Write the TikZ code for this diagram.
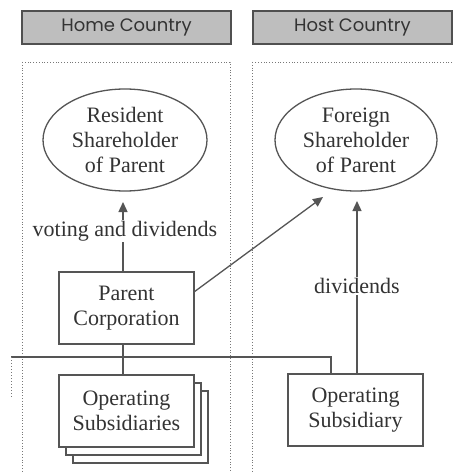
\documentclass[tikz,border=0pt]{standalone}
\usepackage{fontspec}
\setmainfont{Liberation Serif}
\newfontfamily\hdrfont{Poppins}
\usetikzlibrary{shapes.geometric,arrows.meta}
\definecolor{ln}{RGB}{85,85,85}
\definecolor{hdrfill}{RGB}{190,190,190}
\definecolor{hdrline}{RGB}{80,80,80}
\definecolor{dotc}{RGB}{120,120,120}
\tikzset{
  hdr/.style={draw=hdrline, line width=1.8pt, fill=hdrfill, inner sep=0pt, font=\hdrfont\fontsize{18}{20}\selectfont, text=black!80},
  region/.style={draw=dotc, dotted, line width=0.8pt},
  oval/.style={ellipse, draw=ln, line width=1.3pt, inner sep=0pt, align=center, font=\fontsize{22}{25}\selectfont, text=black!80},
  box/.style={rectangle, draw=ln, line width=1.4pt, fill=white, inner sep=0pt, align=center, font=\fontsize{22}{25}\selectfont, text=black!80},
  conn/.style={draw=ln, line width=1.3pt},
  arr/.style={conn, -{Triangle[length=10pt,width=9pt]}},
  lbl/.style={fill=white, inner sep=1pt, font=\fontsize{22}{25}\selectfont, text=black!80}
}
\begin{document}
\begin{tikzpicture}[x=1pt,y=-1pt]
\useasboundingbox (0,0) rectangle (453,473);
\fill[white] (0,0) rectangle (453,473);
% regions
\begin{scope}
\clip (0,0) rectangle (453,473);
\draw[region] (22,62) rectangle (230,490);
\draw[region] (252,62) rectangle (470,490);
\end{scope}
% headers
\node[hdr, minimum width=209pt, minimum height=33pt] (home) at (126.5,27.5) {Home Country};
\node[hdr, minimum width=199pt, minimum height=33pt] (host) at (352.5,27.5) {Host Country};
% ellipses
\node[oval, minimum width=164pt, minimum height=102pt] (res) at (125,140) {Resident\\Shareholder\\of Parent};
\node[oval, minimum width=162pt, minimum height=102pt] (for) at (356,140) {Foreign\\Shareholder\\of Parent};
% boxes
\node[box, minimum width=135pt, minimum height=72pt] (par) at (126.5,308) {Parent\\Corporation};
\node[box, line width=1.8pt, minimum width=135pt, minimum height=72pt] (sub3) at (140.5,427) {};
\node[box, line width=1.8pt, minimum width=135pt, minimum height=72pt] (sub2) at (133.5,419) {};
\node[box, line width=1.8pt, minimum width=135pt, minimum height=72pt] (subs) at (126.5,411) {Operating\\Subsidiaries};
\node[box, minimum width=135pt, minimum height=72pt] (osub) at (355.5,410) {Operating\\Subsidiary};
% labels
\node[lbl] (vlab) at (125,231) {voting and dividends};
\node[lbl] (dlab) at (357,286) {dividends};
% connector coordinates
\coordinate (jL) at (11,357);
\coordinate (jR) at (331,357);
\coordinate (jL2) at (11,397);
\coordinate (vtip) at (123,202);
\coordinate (dtip) at (357,201);
\coordinate (ptop) at (123,272);
\coordinate (pbot) at (123,344);
\coordinate (stop) at (123,375);
\coordinate (prt) at (194,292);
\coordinate (ftip) at (323,197);
% connectors
\draw[conn] (ptop) -- (ptop |- vlab.south);
\draw[arr] (vtip |- vlab.north) -- (vtip);
\draw[conn] (pbot) -- (stop);
\draw[conn] (jL) -- (jR) -- (jR |- osub.north);
\draw[dotc, dotted, line width=1pt] (jL) -- (jL2);
\draw[conn] (dtip |- osub.north) -- (dtip |- dlab.south);
\draw[arr] (dtip |- dlab.north) -- (dtip);
\draw[arr] (prt) -- (ftip);
\end{tikzpicture}
\end{document}
